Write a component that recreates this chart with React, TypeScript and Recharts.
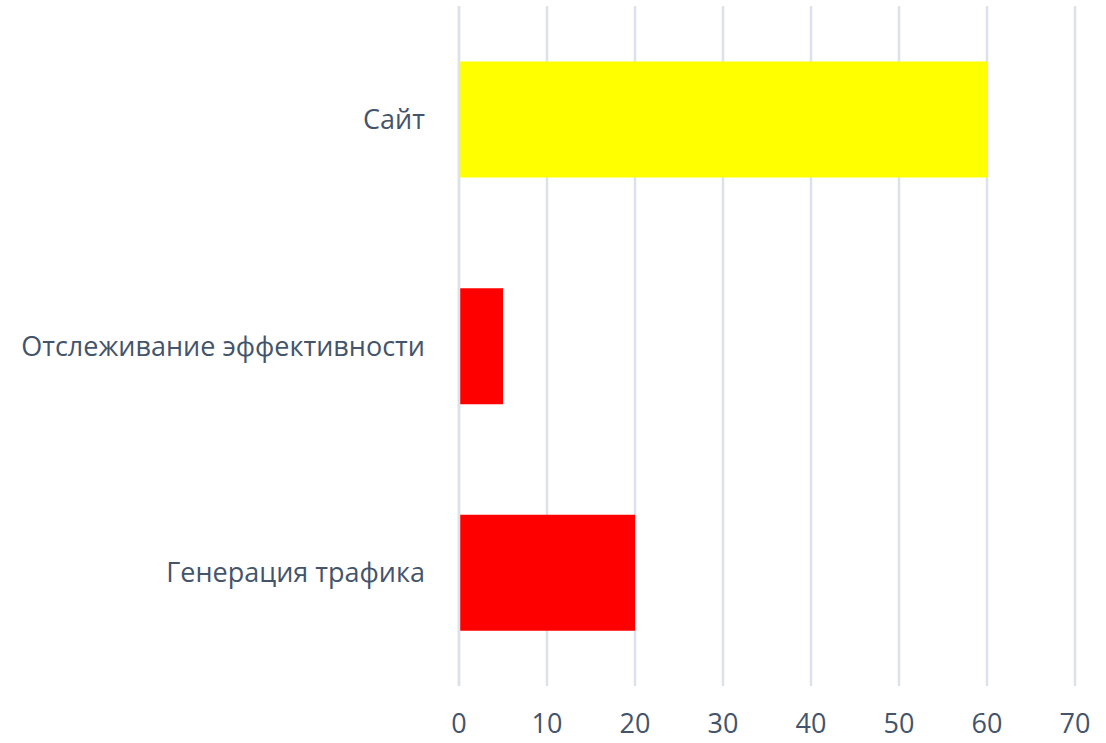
import React from "react";
import { BarChart, Bar, XAxis, YAxis, CartesianGrid, Cell } from "recharts";

const categories = ["Сайт", "Отслеживание эффективности", "Генерация трафика"];
const values = [60, 5, 20];
const barColors = ["#ffff00", "#ff0000", "#ff0000"];
const xTicks = [0, 10, 20, 30, 40, 50, 60, 70];

const data = categories.map((name, i) => ({ name, value: values[i] }));

const font = "'Open Sans', sans-serif";
const textColor = "#44546a";
const gridColor = "#dce2ea";

export default function App() {
  return (
    <div style={{ position: "absolute", left: 0, top: 0, width: 1106, height: 743, background: "#fff" }}>
      <BarChart
        width={1106}
        height={743}
        data={data}
        layout="vertical"
        margin={{ top: 6, right: 31, left: 0, bottom: 0 }}
        barCategoryGap="24.5%"
      >
        <CartesianGrid horizontal={false} stroke={gridColor} strokeWidth={2.5} />
        <XAxis
          type="number"
          domain={[0, 70]}
          ticks={xTicks}
          axisLine={false}
          tickLine={false}
          tickSize={0}
          tickMargin={28}
          height={57}
          tick={{ fill: textColor, fontSize: 27, fontFamily: font }}
        />
        <YAxis
          type="category"
          dataKey="name"
          width={459}
          axisLine={{ stroke: gridColor, strokeWidth: 2.5 }}
          tickLine={false}
          tickSize={0}
          tickMargin={34}
          tick={{ fill: textColor, fontSize: 27, fontFamily: font }}
        />
        <Bar dataKey="value" isAnimationActive={false}>
          {data.map((d, i) => (
            <Cell key={d.name} fill={barColors[i]} />
          ))}
        </Bar>
      </BarChart>
    </div>
  );
}
